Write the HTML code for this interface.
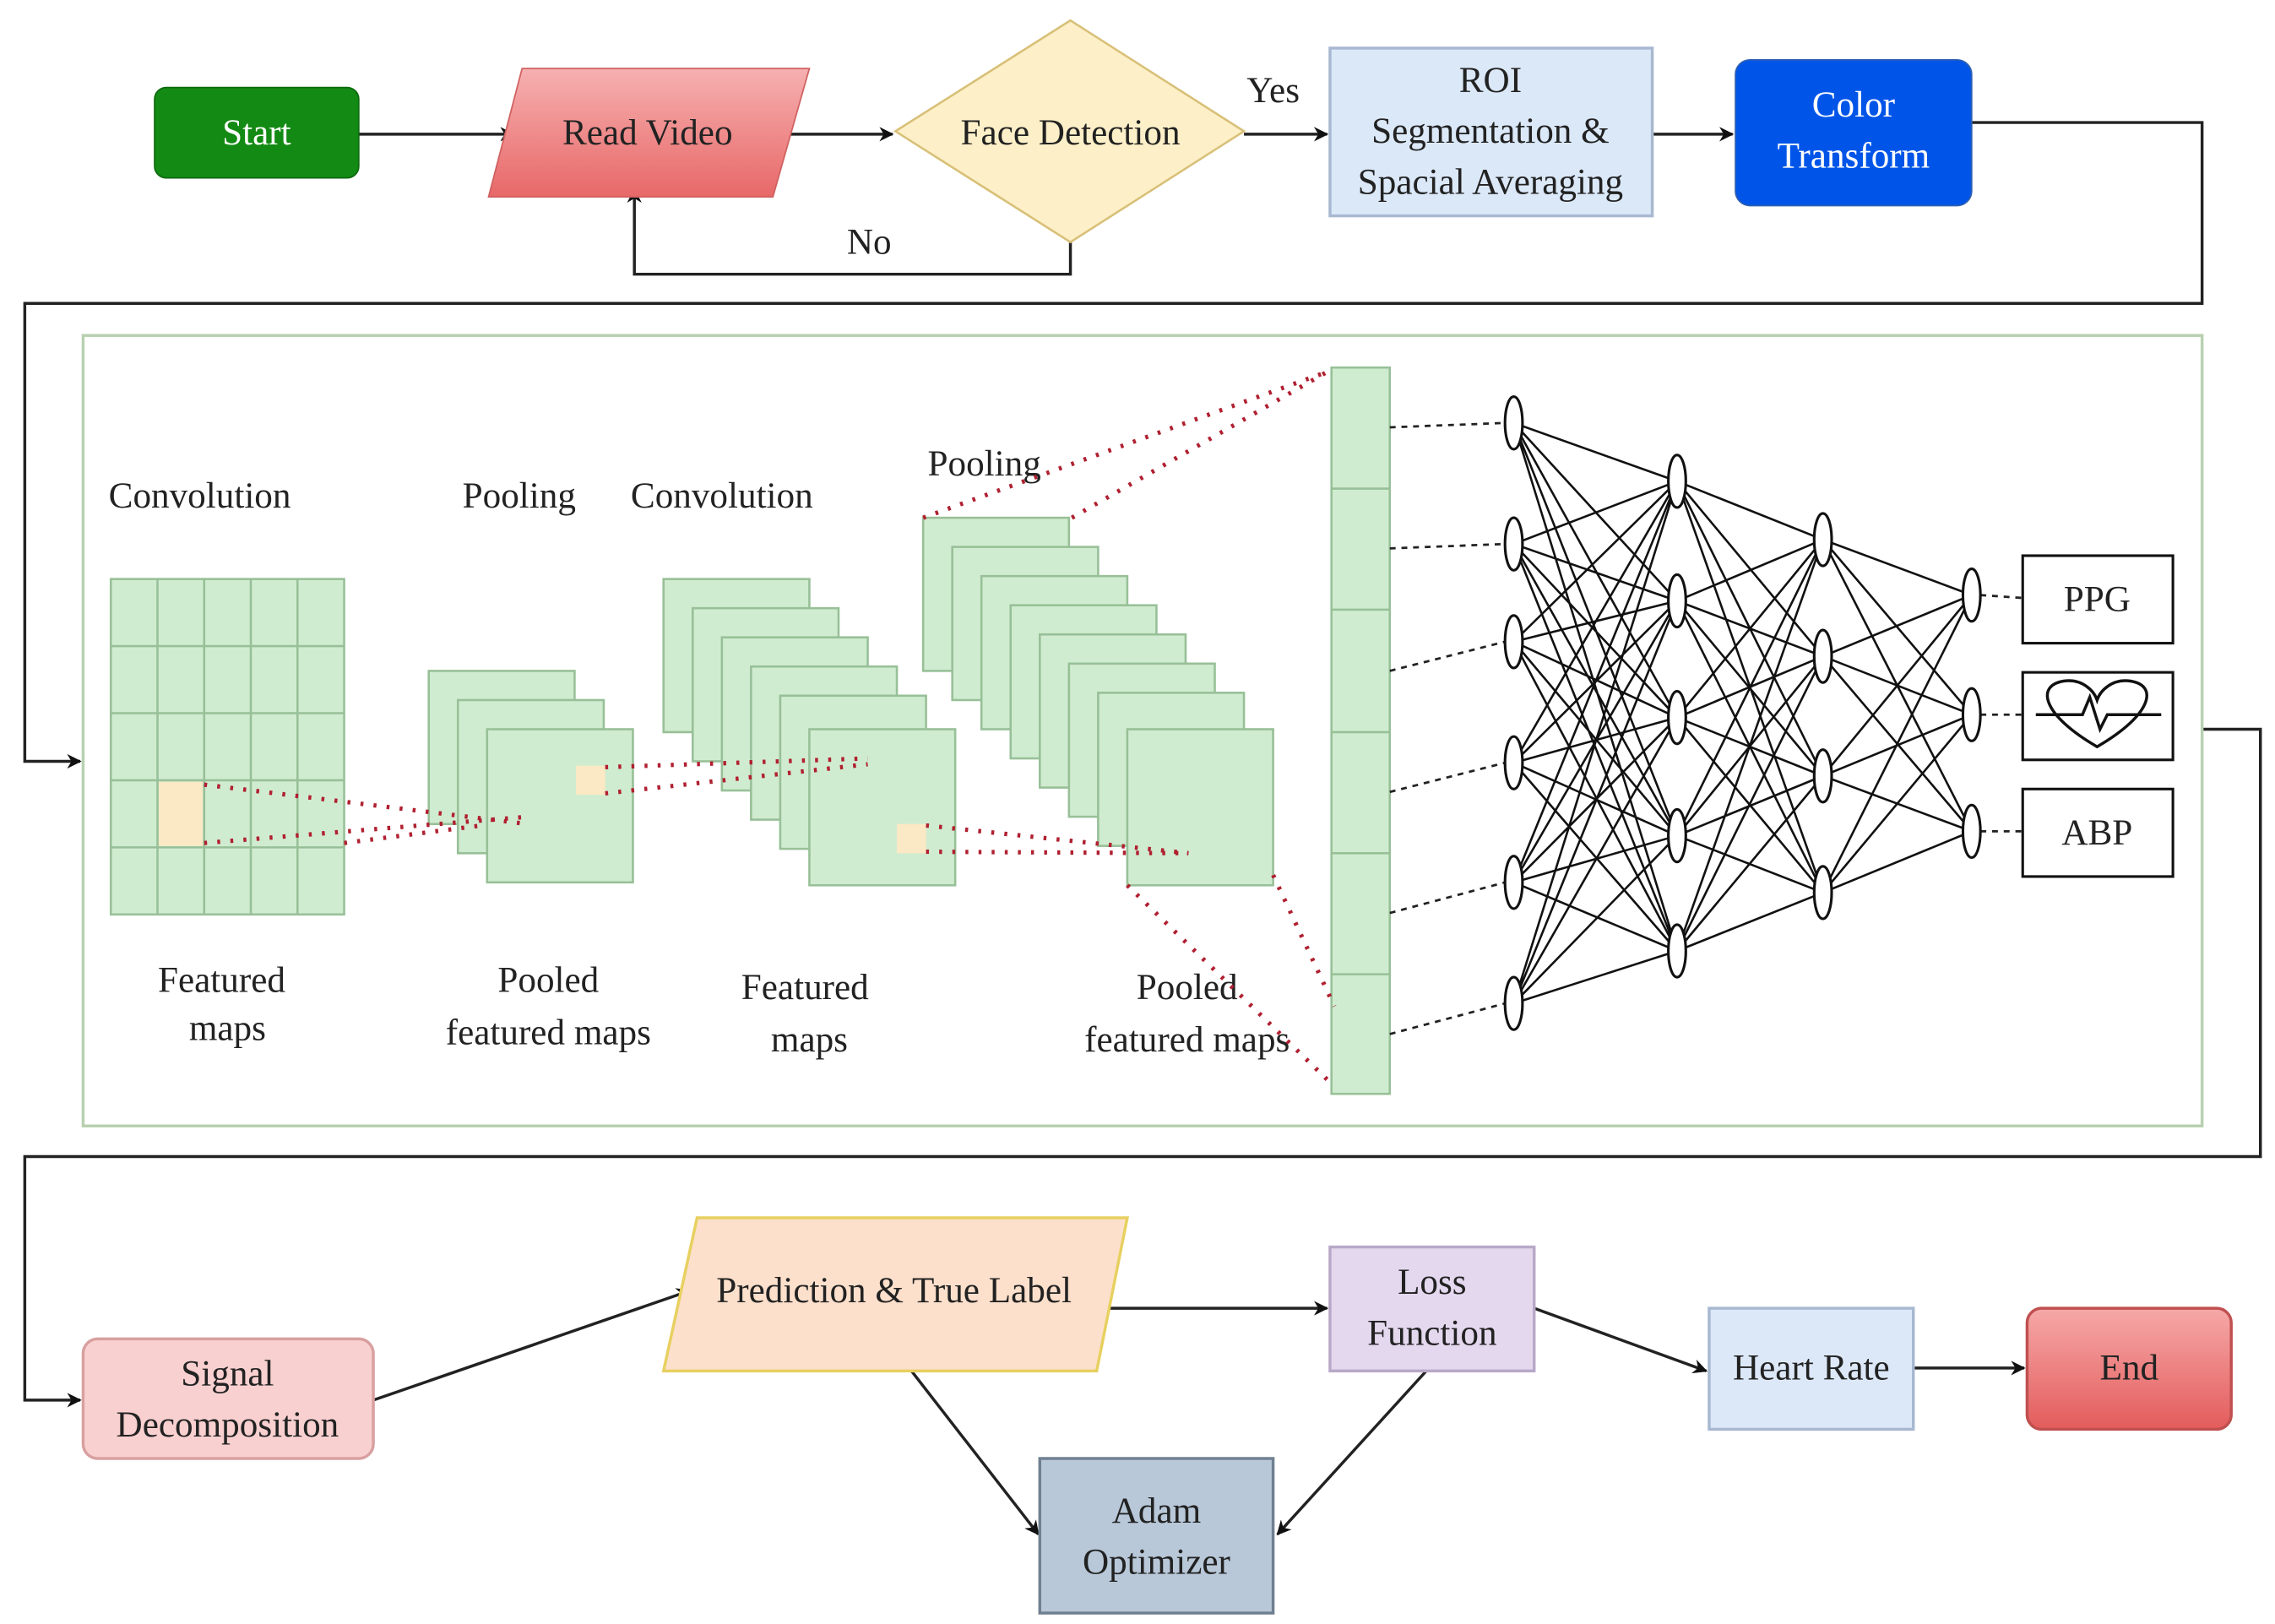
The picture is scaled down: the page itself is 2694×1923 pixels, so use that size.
<!DOCTYPE html>
<html><head><meta charset="utf-8"><style>html,body{margin:0;padding:0;background:#fff}svg{display:block}text{font-family:"Liberation Serif",serif;font-size:25px;fill:#222;text-anchor:middle}</style></head>
<body>
<svg width="2694" height="1923" viewBox="0 0 1560 1113.5" preserveAspectRatio="none" xmlns="http://www.w3.org/2000/svg">
<defs>
<marker id="a" markerWidth="10" markerHeight="10" refX="9" refY="5" orient="auto" markerUnits="userSpaceOnUse" viewBox="0 0 10 10"><path d="M0,0 L10,5 L0,10 L3,5z" fill="#111"/></marker>
<linearGradient id="rv" x1="0" y1="0" x2="0" y2="1"><stop offset="0" stop-color="#f6b0b0"/><stop offset="1" stop-color="#e86868"/></linearGradient>
<linearGradient id="en" x1="0" y1="0" x2="0" y2="1"><stop offset="0" stop-color="#f6a8a8"/><stop offset="1" stop-color="#e45c5c"/></linearGradient>
</defs>
<g stroke="#222" stroke-width="2" fill="none">
<line x1="246" y1="92" x2="352" y2="92" marker-end="url(#a)"/>
<line x1="538" y1="92" x2="612" y2="92" marker-end="url(#a)"/>
<line x1="853" y1="92" x2="910" y2="92" marker-end="url(#a)"/>
<line x1="1133" y1="92" x2="1188" y2="92" marker-end="url(#a)"/>
<polyline points="1352,84 1510,84 1510,208 17,208 17,522 55,522" marker-end="url(#a)"/>
<polyline points="734,166 734,188 435,188 435,130" marker-end="url(#a)"/>
<polyline points="1490,500 1550,500 1550,793 17,793 17,960 55,960" marker-end="url(#a)"/>
<line x1="256" y1="960" x2="473" y2="885" marker-end="url(#a)"/>
<line x1="752" y1="897" x2="910" y2="897" marker-end="url(#a)"/>
<line x1="1052" y1="897" x2="1170" y2="940" marker-end="url(#a)"/>
<line x1="1312" y1="938" x2="1388" y2="938" marker-end="url(#a)"/>
<line x1="625" y1="940" x2="712" y2="1052" marker-end="url(#a)"/>
<line x1="978" y1="940" x2="876" y2="1052" marker-end="url(#a)"/>
</g>
<rect x="106" y="60" width="140" height="62" rx="8" fill="#138a13" stroke="#0d6a0d"/>
<text x="176" y="99" style="fill:#fff">Start</text>
<polygon points="358,47 555,47 530,135 335,135" fill="url(#rv)" stroke="#d06060"/>
<text x="444" y="99">Read Video</text>
<polygon points="734,14 853,90 734,166 614,90" fill="#fdf0c8" stroke="#d8c078" stroke-width="1.5"/>
<text x="734" y="99">Face Detection</text>
<text x="873" y="70">Yes</text>
<text x="596" y="174">No</text>
<rect x="912" y="33" width="221" height="115" fill="#dbe8f8" stroke="#a8b8d0" stroke-width="2"/>
<text x="1022" y="63">ROI</text><text x="1022" y="98">Segmentation &amp;</text><text x="1022" y="133">Spacial Averaging</text>
<rect x="1190" y="41" width="162" height="100" rx="10" fill="#0055e8" stroke="#3060b0"/>
<text x="1271" y="80" style="fill:#fff">Color</text><text x="1271" y="115" style="fill:#fff">Transform</text>
<rect x="57" y="230" width="1453" height="542" fill="#fff" stroke="#b8d0b0" stroke-width="2"/>
<text x="137" y="348">Convolution</text><text x="356" y="348">Pooling</text><text x="495" y="348">Convolution</text><text x="675" y="326">Pooling</text>
<text x="152" y="680">Featured</text><text x="156" y="713">maps</text>
<text x="376" y="680">Pooled</text><text x="376" y="716">featured maps</text>
<text x="552" y="685">Featured</text><text x="555" y="721">maps</text>
<text x="814" y="685">Pooled</text><text x="814" y="721">featured maps</text>
<g fill="#d0ecd0" stroke="#98c098" stroke-width="1.5">
<rect x="76" y="397" width="160" height="230"/>
<rect x="294" y="460" width="100" height="105"/><rect x="314" y="480" width="100" height="105"/><rect x="334" y="500" width="100" height="105"/>
<rect x="455" y="397" width="100" height="105"/><rect x="475" y="417" width="100" height="105"/><rect x="495" y="437" width="100" height="105"/><rect x="515" y="457" width="100" height="105"/><rect x="535" y="477" width="100" height="105"/><rect x="555" y="500" width="100" height="107"/>
<rect x="633" y="355" width="100" height="105"/><rect x="653" y="375" width="100" height="105"/><rect x="673" y="395" width="100" height="105"/><rect x="693" y="415" width="100" height="105"/><rect x="713" y="435" width="100" height="105"/><rect x="733" y="455" width="100" height="105"/><rect x="753" y="475" width="100" height="105"/><rect x="773" y="500" width="100" height="107"/>
<rect x="913" y="252" width="40" height="498"/>
</g>
<g stroke="#98c098" stroke-width="1.5">
<line x1="108" y1="397" x2="108" y2="627"/><line x1="140" y1="397" x2="140" y2="627"/><line x1="172" y1="397" x2="172" y2="627"/><line x1="204" y1="397" x2="204" y2="627"/>
<line x1="76" y1="443" x2="236" y2="443"/><line x1="76" y1="489" x2="236" y2="489"/><line x1="76" y1="535" x2="236" y2="535"/><line x1="76" y1="581" x2="236" y2="581"/>
<line x1="913" y1="335" x2="953" y2="335"/><line x1="913" y1="418" x2="953" y2="418"/><line x1="913" y1="502" x2="953" y2="502"/><line x1="913" y1="585" x2="953" y2="585"/><line x1="913" y1="668" x2="953" y2="668"/>
</g>
<g fill="#fbe8c4"><rect x="109" y="536" width="30" height="44"/><rect x="395" y="525" width="20" height="20"/><rect x="615" y="565" width="20" height="20"/></g>
<g stroke="#b02030" stroke-width="3" stroke-dasharray="2,7" fill="none">
<line x1="140" y1="538" x2="362" y2="565"/><line x1="140" y1="578" x2="362" y2="560"/><line x1="236" y1="578" x2="330" y2="566"/>
<line x1="415" y1="526" x2="595" y2="520"/><line x1="415" y1="544" x2="595" y2="524"/>
<line x1="635" y1="566" x2="815" y2="585"/><line x1="635" y1="584" x2="815" y2="585"/>
<line x1="633" y1="355" x2="910" y2="255"/><line x1="735" y1="355" x2="910" y2="255"/>
<line x1="773" y1="607" x2="915" y2="745"/><line x1="873" y1="600" x2="915" y2="690"/>
</g>
<g stroke="#222" stroke-width="1.6" stroke-dasharray="4,4">
<line x1="953" y1="293" x2="1032" y2="290"/><line x1="953" y1="376" x2="1032" y2="373"/><line x1="953" y1="460" x2="1032" y2="440"/><line x1="953" y1="543" x2="1032" y2="523"/><line x1="953" y1="626" x2="1032" y2="605"/><line x1="953" y1="709" x2="1032" y2="688"/>
<line x1="1358" y1="408" x2="1387" y2="410"/><line x1="1358" y1="490" x2="1387" y2="490"/><line x1="1358" y1="570" x2="1387" y2="570"/>
</g>
<g stroke="#111" stroke-width="1.5">
<path d="M1038,290L1150,330M1038,290L1150,412M1038,290L1150,492M1038,290L1150,573M1038,290L1150,652M1038,373L1150,330M1038,373L1150,412M1038,373L1150,492M1038,373L1150,573M1038,373L1150,652M1038,440L1150,330M1038,440L1150,412M1038,440L1150,492M1038,440L1150,573M1038,440L1150,652M1038,523L1150,330M1038,523L1150,412M1038,523L1150,492M1038,523L1150,573M1038,523L1150,652M1038,605L1150,330M1038,605L1150,412M1038,605L1150,492M1038,605L1150,573M1038,605L1150,652M1038,688L1150,330M1038,688L1150,412M1038,688L1150,492M1038,688L1150,573M1038,688L1150,652
M1150,330L1250,370M1150,330L1250,450M1150,330L1250,532M1150,330L1250,612M1150,412L1250,370M1150,412L1250,450M1150,412L1250,532M1150,412L1250,612M1150,492L1250,370M1150,492L1250,450M1150,492L1250,532M1150,492L1250,612M1150,573L1250,370M1150,573L1250,450M1150,573L1250,532M1150,573L1250,612M1150,652L1250,370M1150,652L1250,450M1150,652L1250,532M1150,652L1250,612
M1250,370L1352,408M1250,370L1352,490M1250,370L1352,570M1250,450L1352,408M1250,450L1352,490M1250,450L1352,570M1250,532L1352,408M1250,532L1352,490M1250,532L1352,570M1250,612L1352,408M1250,612L1352,490M1250,612L1352,570"/>
</g>
<g fill="#fff" stroke="#111" stroke-width="1.8">
<ellipse cx="1038" cy="290" rx="6" ry="18"/><ellipse cx="1038" cy="373" rx="6" ry="18"/><ellipse cx="1038" cy="440" rx="6" ry="18"/><ellipse cx="1038" cy="523" rx="6" ry="18"/><ellipse cx="1038" cy="605" rx="6" ry="18"/><ellipse cx="1038" cy="688" rx="6" ry="18"/>
<ellipse cx="1150" cy="330" rx="6" ry="18"/><ellipse cx="1150" cy="412" rx="6" ry="18"/><ellipse cx="1150" cy="492" rx="6" ry="18"/><ellipse cx="1150" cy="573" rx="6" ry="18"/><ellipse cx="1150" cy="652" rx="6" ry="18"/>
<ellipse cx="1250" cy="370" rx="6" ry="18"/><ellipse cx="1250" cy="450" rx="6" ry="18"/><ellipse cx="1250" cy="532" rx="6" ry="18"/><ellipse cx="1250" cy="612" rx="6" ry="18"/>
<ellipse cx="1352" cy="408" rx="6" ry="18"/><ellipse cx="1352" cy="490" rx="6" ry="18"/><ellipse cx="1352" cy="570" rx="6" ry="18"/>
<rect x="1387" y="381" width="103" height="60"/><rect x="1387" y="461" width="103" height="60"/><rect x="1387" y="541" width="103" height="60"/>
</g>
<path d="M1438,512 C1400,490 1396,470 1415,467 C1428,465 1436,474 1438,480 C1440,474 1448,465 1461,467 C1480,470 1476,490 1438,512Z M1396,490 L1428,490 L1433,478 L1440,500 L1445,490 L1482,490" fill="none" stroke="#111" stroke-width="2"/>
<text x="1438" y="419">PPG</text><text x="1438" y="579">ABP</text>
<rect x="57" y="918" width="199" height="82" rx="10" fill="#f9d0d0" stroke="#d8a0a0" stroke-width="2"/>
<text x="156" y="950">Signal</text><text x="156" y="985">Decomposition</text>
<polygon points="478,835 773,835 752,940 455,940" fill="#fce0cc" stroke="#e8d060" stroke-width="2"/>
<text x="613" y="893">Prediction &amp; True Label</text>
<rect x="912" y="855" width="140" height="85" fill="#e4d8ee" stroke="#b8a8c8" stroke-width="2"/>
<text x="982" y="887">Loss</text><text x="982" y="922">Function</text>
<rect x="1172" y="897" width="140" height="83" fill="#dce8f8" stroke="#a8b8d0" stroke-width="2"/>
<text x="1242" y="946">Heart Rate</text>
<rect x="1390" y="897" width="140" height="83" rx="10" fill="url(#en)" stroke="#c05050" stroke-width="2"/>
<text x="1460" y="946">End</text>
<rect x="713" y="1000" width="160" height="106" fill="#b8c8d8" stroke="#708090" stroke-width="2"/>
<text x="793" y="1044">Adam</text><text x="793" y="1079">Optimizer</text>
</svg>
</body></html>
